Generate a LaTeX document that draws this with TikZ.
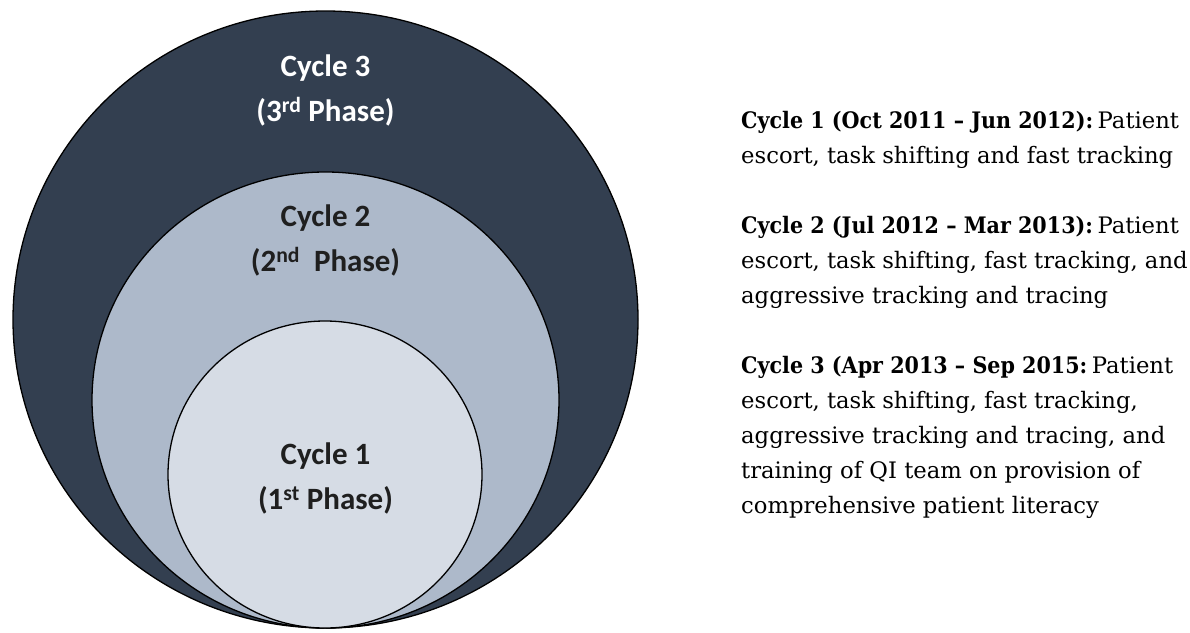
\documentclass[tikz,border=0pt]{standalone}
\usepackage{fontspec}
\setmainfont{DejaVu Serif}[BoldFeatures={FakeStretch=0.91}]
\newfontfamily\carlito{Carlito}
\usetikzlibrary{shapes.geometric}
\definecolor{darkc}{HTML}{333F50}
\definecolor{midc}{HTML}{ADB9CA}
\definecolor{lightc}{HTML}{D6DCE5}
\definecolor{labtxt}{HTML}{1F1F1F}
\newcommand{\hd}[1]{\textbf{#1}\hspace{0.2em}}
\tikzset{
  ring/.style={ellipse, draw=black, line width=1.3pt, inner sep=0pt},
  lab/.style={font=\carlito\bfseries\fontsize{31}{45}\selectfont, align=center, inner sep=0pt, text=labtxt},
  para/.style={font=\fontsize{22.7}{35}\selectfont, align=left, inner sep=0pt, anchor=north west, text=black},
}
\begin{document}
\begin{tikzpicture}[x=1pt,y=-1pt]
  \useasboundingbox (0,0) rectangle (1190,632);
  \fill[white] (0,0) rectangle (1190,632);
  % nested circles
  \node[ring, fill=darkc, minimum width=625pt, minimum height=617pt] (c3) at (325.5,319.5) {};
  \node[ring, fill=midc, minimum width=467pt, minimum height=456pt] (c2) at (325.5,400) {};
  \node[ring, fill=lightc, minimum width=314pt, minimum height=307pt] (c1) at (325,474.5) {};
  % circle labels
  \node[lab, text=white] (l3) at (325.5,90) {Cycle 3\\(3\textsuperscript{rd} Phase)};
  \node[lab] (l2) at (325.5,240) {Cycle 2\\(2\textsuperscript{nd}\ \ Phase)};
  \node[lab] (l1) at (325.5,478) {Cycle 1\\(1\textsuperscript{st} Phase)};
  % descriptions
  \node[para] (p1) at (741,111) {\hd{Cycle 1 (Oct 2011 – Jun 2012):}Patient\\escort, task shifting and fast tracking};
  \node[para] (p2) at (741,216) {\hd{Cycle 2 (Jul 2012 – Mar 2013):}Patient\\escort, task shifting, fast tracking, and\\aggressive tracking and tracing};
  \node[para] (p3) at (741,356) {\hd{Cycle 3 (Apr 2013 – Sep 2015:}Patient\\escort, task shifting, fast tracking,\\aggressive tracking and tracing, and\\training of QI team on provision of\\comprehensive patient literacy};
\end{tikzpicture}
\end{document}
